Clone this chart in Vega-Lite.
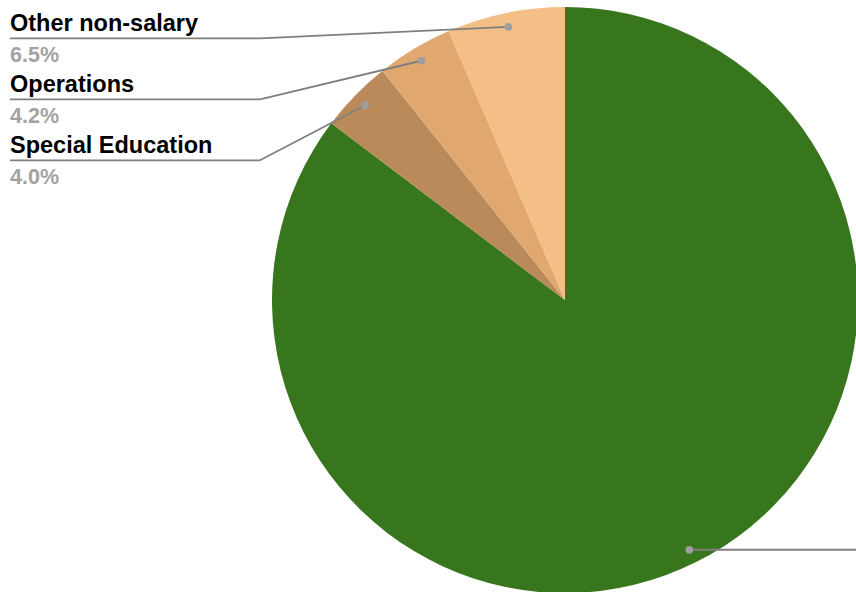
{
  "$schema": "https://vega.github.io/schema/vega-lite/v6.json",
  "autosize": "none",
  "width": 582,
  "height": 584,
  "padding": {"left": 274, "top": 8, "right": 0, "bottom": 0},
  "background": "white",
  "config": {"view": {"stroke": null}},
  "data": {
    "values": [
      {"category": "Salaries", "percent": 85.3, "order": 1},
      {"category": "Special Education", "percent": 4.0, "order": 2},
      {"category": "Operations", "percent": 4.2, "order": 3},
      {"category": "Other non-salary", "percent": 6.5, "order": 4}
    ]
  },
  "layer": [
    {
      "mark": {"type": "arc", "outerRadius": 293, "stroke": null},
      "encoding": {
        "theta": {"field": "percent", "type": "quantitative", "stack": true},
        "order": {"field": "order", "type": "quantitative"},
        "color": {
          "field": "category",
          "type": "nominal",
          "scale": {
            "domain": ["Salaries", "Special Education", "Operations", "Other non-salary"],
            "range": ["#38761d", "#ba8a5b", "#e0a86e", "#f4be87"]
          },
          "legend": null
        }
      }
    },
    {
      "transform": [
        {"window": [{"op": "sum", "field": "percent", "as": "cum"}], "sort": [{"field": "order"}], "frame": [null, 0]},
        {"window": [{"op": "row_number", "as": "rank"}], "sort": [{"field": "order", "order": "descending"}]},
        {"calculate": "(datum.cum - datum.percent / 2) / 100 * 2 * PI", "as": "mid"},
        {"calculate": "279 * sin(datum.mid)", "as": "dotX"},
        {"calculate": "279 * cos(datum.mid)", "as": "dotY"},
        {"calculate": "datum.dotX < 0", "as": "left"},
        {"calculate": "datum.left ? 261.7 - 61 * (datum.rank - 1) : datum.dotY", "as": "lineY"},
        {"calculate": "datum.left ? -305 : datum.dotX", "as": "kneeX"},
        {"calculate": "datum.left ? -555 : 330", "as": "endX"},
        {"calculate": "format(datum.percent / 100, '.1%')", "as": "pctLabel"}
      ],
      "layer": [
        {
          "mark": {"type": "rule", "color": "#7f7f7f", "strokeWidth": 1.8},
          "encoding": {
            "x": {"field": "dotX", "type": "quantitative", "scale": {"domain": [-291, 291], "nice": false, "zero": false}, "axis": null},
            "y": {"field": "dotY", "type": "quantitative", "scale": {"domain": [-292, 292], "nice": false, "zero": false}, "axis": null},
            "x2": {"field": "kneeX"},
            "y2": {"field": "lineY"}
          }
        },
        {
          "mark": {"type": "rule", "color": "#7f7f7f", "strokeWidth": 1.8},
          "encoding": {
            "x": {"field": "kneeX", "type": "quantitative", "scale": {"domain": [-291, 291], "nice": false, "zero": false}, "axis": null},
            "y": {"field": "lineY", "type": "quantitative", "scale": {"domain": [-292, 292], "nice": false, "zero": false}, "axis": null},
            "x2": {"field": "endX"}
          }
        },
        {
          "mark": {"type": "point", "filled": true, "size": 60, "color": "#9e9e9e", "opacity": 1},
          "encoding": {
            "x": {"field": "dotX", "type": "quantitative", "scale": {"domain": [-291, 291], "nice": false, "zero": false}, "axis": null},
            "y": {"field": "dotY", "type": "quantitative", "scale": {"domain": [-292, 292], "nice": false, "zero": false}, "axis": null}
          }
        },
        {
          "transform": [{"filter": "datum.left"}],
          "mark": {"type": "text", "align": "left", "baseline": "alphabetic", "dy": -7, "font": "Liberation Sans", "fontSize": 23.5, "fontWeight": "bold", "color": "#000000"},
          "encoding": {
            "x": {"field": "endX", "type": "quantitative", "scale": {"domain": [-291, 291], "nice": false, "zero": false}, "axis": null},
            "y": {"field": "lineY", "type": "quantitative", "scale": {"domain": [-292, 292], "nice": false, "zero": false}, "axis": null},
            "text": {"field": "category"}
          }
        },
        {
          "transform": [{"filter": "datum.left"}],
          "mark": {"type": "text", "align": "left", "baseline": "alphabetic", "dy": 23.4, "font": "Liberation Sans", "fontSize": 21.5, "fontWeight": "bold", "color": "#a3a3a3"},
          "encoding": {
            "x": {"field": "endX", "type": "quantitative", "scale": {"domain": [-291, 291], "nice": false, "zero": false}, "axis": null},
            "y": {"field": "lineY", "type": "quantitative", "scale": {"domain": [-292, 292], "nice": false, "zero": false}, "axis": null},
            "text": {"field": "pctLabel"}
          }
        }
      ]
    }
  ]
}
